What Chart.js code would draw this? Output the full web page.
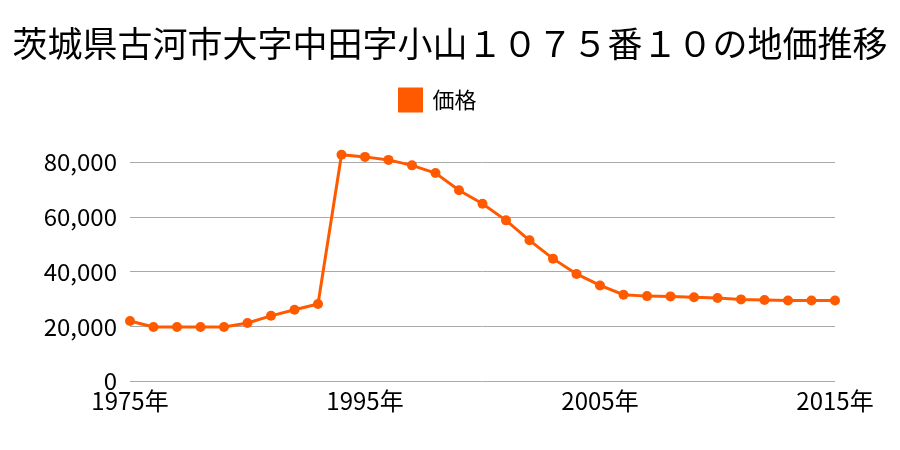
<!DOCTYPE html>
<html>
<head>
<meta charset="utf-8">
<script src="https://cdn.jsdelivr.net/npm/chart.js@4"></script>
<style>
  html, body { margin: 0; padding: 0; background: #fff; }
  #wrap { width: 900px; height: 450px; }
</style>
</head>
<body>
<div id="wrap"><canvas id="myChart" width="900" height="450"></canvas></div>
<script>
const titleText = "茨城県古河市大字中田字小山１０７５番１０の地価推移";
const seriesName = "価格";
// x tick labels, one per point (only some are shown in the picture)
const xLabels = [
  "1975年", "", "", "", "", "", "", "", "", "",
  "1995年", "", "", "", "", "", "", "", "", "",
  "2005年", "", "", "", "", "", "", "", "", "",
  "2015年"
];
const prices = [
  22000, 19800, 19800, 19800, 19800, 21300, 23900, 26100, 28200, 82800,
  82000, 80900, 78900, 76100, 69800, 64900, 58800, 51500, 44800, 39200,
  35000, 31600, 31100, 31000, 30700, 30400, 29900, 29700, 29500, 29500,
  29500
];
const yTicks = [0, 20000, 40000, 60000, 80000];

const orange = "#ff5a00";
const font = "'Noto Sans CJK JP', 'Noto Sans', sans-serif";
const ctx = document.getElementById("myChart");

// move title and legend to where they sit in the picture
const placeHeader = {
  id: "placeHeader",
  afterLayout(chart) {
    const t = chart.titleBlock;
    t.top -= 13;
    t.bottom -= 13;
    const lg = chart.legend;
    lg.left -= 12;
    lg.right -= 12;
    lg.top -= 14;
    lg.bottom -= 14;
  }
};

new Chart(ctx, {
  type: "line",
  data: {
    labels: xLabels,
    datasets: [{
      label: seriesName,
      data: prices,
      borderColor: orange,
      backgroundColor: orange,
      borderWidth: 3,
      pointRadius: 5,
      pointHoverRadius: 5,
      pointBackgroundColor: orange,
      pointBorderWidth: 0,
      tension: 0
    }]
  },
  plugins: [placeHeader],
  options: {
    responsive: false,
    animation: false,
    layout: { padding: { left: 0, right: 0, top: 0, bottom: 30 } },
    plugins: {
      title: {
        display: true,
        text: titleText,
        color: "#000",
        font: { family: font, size: 35, weight: "normal" },
        padding: { top: 20, bottom: 13 }
      },
      legend: {
        display: true,
        labels: {
          color: "#000",
          font: { family: font, size: 22 },
          boxWidth: 22,
          boxHeight: 22,
          padding: 12
        }
      },
      tooltip: { enabled: false }
    },
    scales: {
      x: {
        afterFit: (scale) => { scale.paddingRight = 65; },
        grid: { display: false, drawTicks: false },
        border: { display: false },
        ticks: {
          color: "#000",
          font: { family: font, size: 24 },
          autoSkip: false,
          maxRotation: 0,
          padding: 5
        }
      },
      y: {
        min: 0,
        max: 90000,
        afterBuildTicks: (scale) => {
          scale.ticks = yTicks.map(v => ({ value: v }));
        },
        afterFit: (scale) => {
          scale.width = 130;
          scale.paddingTop = 135;
        },
        grid: { color: "#aaaaaa", lineWidth: 1, drawTicks: false },
        border: { display: false },
        ticks: {
          color: "#000",
          font: { family: font, size: 24 },
          padding: 13,
          callback: (v) => v.toLocaleString("en-US")
        }
      }
    }
  }
});
</script>
</body>
</html>
